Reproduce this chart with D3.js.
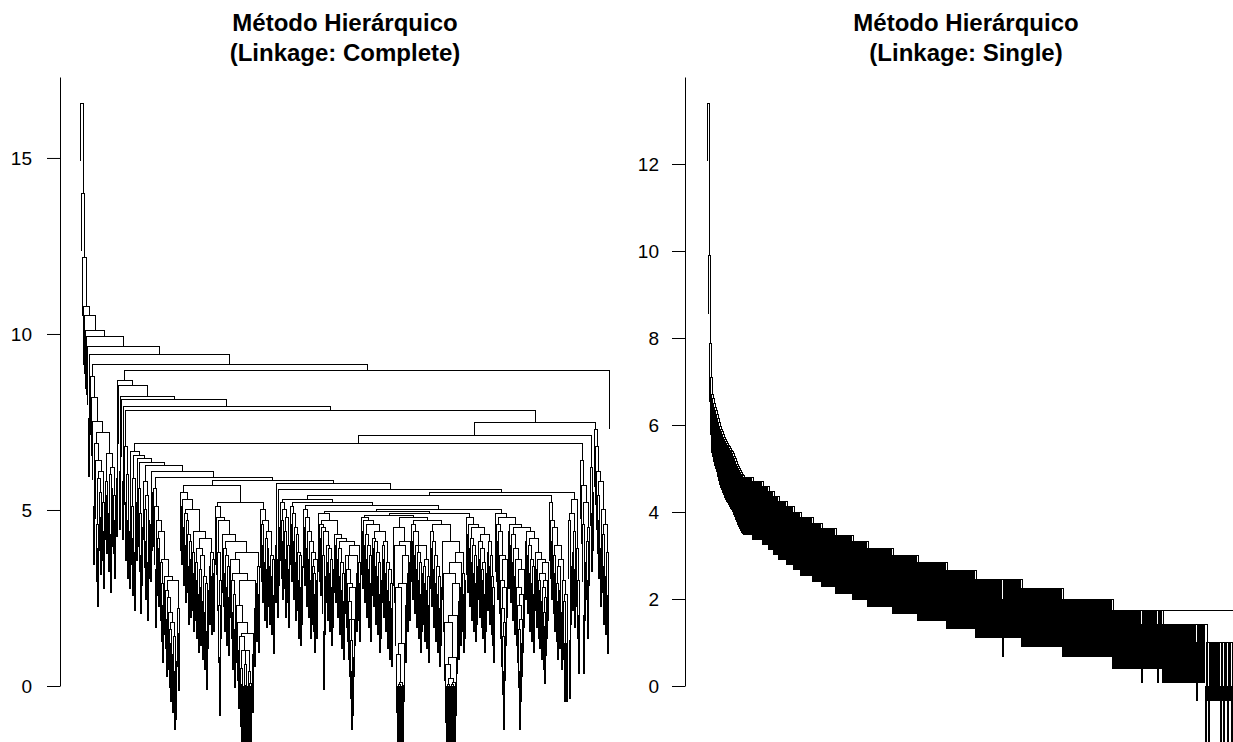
<!DOCTYPE html>
<html>
<head>
<meta charset="utf-8">
<script src="https://cdn.jsdelivr.net/npm/d3@7"></script>
<style>
  body { margin: 0; background: #fff; }
  svg { display: block; font-family: "Liberation Sans", Arial, Helvetica, sans-serif; }
  .link { fill: none; stroke: #000; stroke-width: 1; shape-rendering: crispEdges; }
</style>
</head>
<body>
<svg width="1233" height="742"></svg>
<script>
// Heights at which neighbouring leaves meet, read left to right.
// Complete linkage panel
const completeTop = [16.56, 14.0, 12.16, 10.77, 10.53, 10.1, 9.93, 9.64, 7.6, 9.42];
const completeLeftWedge = [8.8, 8.2, 7.5, 5.1, 6.9, 6.4, 4.6, 3.9, 5.9, 5.5, 4.8, 6.1, 5.2, 4.4, 7.2, 5.8, 5.4, 6.6, 4.9, 6.0, 4.3, 5.6, 6.2, 5.4, 4.7, 9.13];
const completeChainA = [5.9, 8.69, 8.53, 6.1, 8.23, 8.15, 5.8, 7.95, 6.8, 5.2, 6.0, 4.7, 7.82];
const completeChainB = [4.4, 6.65, 5.1, 4.2, 5.9, 3.8, 6.55, 5.2, 6.46, 5.6, 4.9, 3.7, 4.5, 6.36, 5.8, 5.0, 4.1, 5.4, 3.5, 4.7, 6.26, 4.6, 5.5, 6.09];
const completeDeepWedge = [5.6, 5.1, 3.3, 4.7, 4.2, 3.9, 4.4, 3.5, 2.9, 2.3, 3.6, 3.1, 2.7, 1.9, 2.5, 2.1, 1.6, 1.2, 1.8, 0.9, 1.4, 0.4, 0.7, 3.0, 2.2, 1.5, 5.93];
const completeMidA = [5.5, 5.1, 5.3, 4.5, 4.9, 4.0, 4.7, 4.3, 3.4, 4.1, 3.6, 5.0, 3.8, 3.2, 4.4, 3.5, 3.0, 3.9, 2.6, 3.3, 2.8, 3.7, 2.4, 3.1, 2.1, 2.9, 1.55, 2.7, 4.2, 3.4, 3.8, 3.1, 3.6, 3.2, 5.7];
const completeMidB = [5.1, 4.8, 3.8, 2.3, 0.8, 3.0, 4.7, 4.3, 3.9, 3.2, 3.7, 2.8, 3.4, 2.5, 4.1, 3.6, 3.0, 2.1, 2.6, 1.6, 3.2, 2.3, 1.8, 1.0, 1.4, 0.5, 0.05, 1.0, 0.0, 0.6, 0.02, 1.0, 0.0, 0.4, 0.06, 0.0, 1.5, 0.9, 3.0, 2.2, 3.8, 2.9, 3.4, 2.6, 5.2];
const completeMidC = [5.0, 4.6, 4.0, 4.7, 3.5, 4.2, 3.3, 3.9, 4.4, 3.4, 3.7, 3.1, 3.6, 2.56, 5.83, 4.0, 5.75, 3.6, 4.5, 5.58];
const completeCentreA = [5.2, 4.7, 4.1, 5.0, 4.4, 3.6, 4.8, 4.0, 3.3, 5.30,
  5.1, 4.6, 4.9, 4.1, 4.5, 3.5, 4.3, 3.8, 3.0, 3.7, 2.8, 3.4, 5.22,
  5.0, 4.5, 4.8, 3.9, 4.4, 3.6, 4.1, 3.0, 3.8, 3.4, 3.2, 2.6, 3.6, 3.0, 5.12];
const completeCentreB = [4.9, 4.6, 4.2, 4.5, 3.7, 1.55, 3.1, 4.4, 4.0, 3.5, 3.9, 3.2, 3.6, 2.8, 3.3, 4.7, 4.3, 4.0, 4.2, 3.6, 3.9, 3.1, 3.5, 2.7, 3.2, 2.4, 4.1, 3.7, 3.3, 2.9, 2.4, 1.9, 1.3, 0.4, 0.8, 1.9, 2.8, 3.7, 3.2, 4.0, 3.5, 2.9, 4.95];
const completeCentreC = [4.8, 4.4, 4.7, 4.0, 4.3, 3.6, 4.0, 3.3, 3.7, 2.9, 4.6, 4.2, 3.9, 4.1, 3.4, 3.8, 3.1, 3.5, 2.6, 3.0, 4.4, 4.0, 3.6, 4.1, 3.2, 3.5, 2.7, 3.3, 2.4, 2.9, 2.2, 4.85,
  4.5, 4.0, 2.8, 0.9, 0.0, 0.05, 0.0, 0.1, 0.0, 0.02, 1.2, 2.9, 2.3, 3.7, 3.2, 4.1, 3.5, 4.8];
const completeCentreD = [4.6, 4.1, 4.4, 3.7, 4.0, 3.3, 3.8, 3.0, 3.5, 2.6, 3.2, 4.0, 3.4, 2.9, 3.6, 2.7, 3.1, 2.3, 4.7,
  4.4, 3.9, 4.1, 3.3, 3.7, 2.9, 3.4, 2.6, 3.1, 2.2, 2.8, 4.6,
  4.1, 3.2, 1.8, 0.6, 0.0, 0.05, 0.0, 0.2, 0.0, 0.03, 0.0, 0.1, 0.0, 0.8, 2.0, 2.9, 2.4, 3.5, 2.8, 3.8, 3.2, 2.6, 3.0, 4.9];
const completeCentreE = [4.8, 4.3, 4.6, 3.9, 4.2, 3.5, 4.0, 3.2, 3.7, 2.9, 3.4, 4.5, 4.1, 3.6, 3.9, 3.3, 3.0, 3.5, 2.6, 3.2, 4.3, 3.8, 4.1, 3.4, 3.7, 3.1, 2.8, 2.3, 5.0];
const completeCentreF = [4.9, 4.6, 4.1, 4.4, 3.7, 3.0, 2.2, 1.4, 0.4, 1.8, 2.8, 3.6, 4.8, 4.4, 4.6, 4.0, 4.3, 3.5, 3.9, 3.1, 3.6, 2.8, 2.3, 1.6, 0.4, 1.2, 1.9, 2.6, 3.3, 4.5, 4.1, 4.4, 3.7, 4.0, 3.2, 3.6, 2.9, 3.4, 2.6, 4.2, 3.8, 3.3, 3.6, 3.0, 2.7, 3.2, 2.4, 2.8, 2.1, 1.7, 2.5, 3.0, 3.5, 5.40];
const completeRightA = [5.2, 4.7, 4.1, 4.5, 3.7, 3.2, 4.0, 2.9, 2.4, 3.4, 2.7, 3.6, 2.1, 3.0, 2.4, 1.2, 2.6, 1.2, 5.50,
  4.7, 1.3, 3.4, 4.9, 3.8, 4.4, 3.3, 5.3, 3.9, 3.0, 2.0, 6.9];
const completeRightB = [6.4, 5.7, 4.6, 2.0, 3.5, 5.2, 4.1, 3.0, 4.5, 7.13, 6.2, 4.9, 5.5, 7.48, 7.3, 6.8, 6.1, 5.4, 4.7, 5.8, 3.9, 5.0, 4.3, 3.4, 4.6, 3.1, 3.8, 2.56, 8.96];

// Single linkage panel: first leaves one by one, then plateaus (height, number of leaves)
const singleTopGaps = [13.4, 9.9, 7.88, 7.1, 6.7, 6.6, 6.5, 6.4, 6.34, 6.25, 6.15, 6.05, 5.96, 5.9, 5.84, 5.78, 5.72, 5.66, 5.62, 5.58, 5.54, 5.5, 5.46, 5.42, 5.38, 5.35, 5.28, 5.22, 5.16, 5.1, 5.05, 5.0, 4.95, 4.9, 4.86, 4.83];
const singleStepHeights = [4.80, 4.69, 4.58, 4.47, 4.36, 4.24, 4.12, 4.0, 3.87, 3.74, 3.61, 3.46, 3.32, 3.16, 3.0, 2.83, 2.65, 2.45, 2.0, 2.45, 2.24, 2.0, 1.73, 1.41, 1.73, 1.41, 1.73, 1.41, 1.0, 1.41, 0, 1.0, 0, 1.0, 0, 1.0, 0, 1.0, 0, 1.0, 0, 1.0, 1.73, 0];
const singleStepCounts = [9, 10, 6, 5, 5, 8, 7, 7, 12, 9, 14, 17, 15, 25, 25, 29, 29, 27, 1, 18, 41, 50, 29, 1, 15, 1, 4, 34, 1, 8, 1, 2, 1, 11, 1, 2, 1, 3, 1, 3, 1, 1, 1, 2];

const completeTicks = [0, 5, 10, 15];
const singleTicks = [0, 2, 4, 6, 8, 10, 12];
const mainTitle = "Método Hierárquico";

const completeGaps = [].concat(completeTop, completeLeftWedge, completeChainA, completeChainB, completeDeepWedge,
  completeMidA, completeMidB, completeMidC, completeCentreA, completeCentreB, completeCentreC,
  completeCentreD, completeCentreE, completeCentreF, completeRightA, completeRightB);

const singleGaps = singleTopGaps.slice();
singleStepHeights.forEach((h, i) => {
  for (let k = 0; k < singleStepCounts[i]; k++) singleGaps.push(h);
});

// rebuild the binary tree: split each range at its highest gap
function buildTree(gaps) {
  function build(lo, hi) {
    if (lo === hi) return { leaf: lo };
    let m = lo;
    for (let i = lo + 1; i < hi; i++) if (gaps[i] > gaps[m]) m = i;
    return { height: gaps[m], children: [build(lo, m), build(m + 1, hi)] };
  }
  return build(0, gaps.length);
}

const svg = d3.select("svg");

const panels = [
  { gaps: completeGaps, ticks: completeTicks, sub: "(Linkage: Complete)", axisX: 60, firstLeaf: 80.5, yTop: 17.3, pad: 15, titleX: 345 },
  { gaps: singleGaps, ticks: singleTicks, sub: "(Linkage: Single)", axisX: 685, firstLeaf: 707.5, yTop: 14.0, pad: 13, titleX: 966 }
];

panels.forEach(p => {
  const n = p.gaps.length + 1;
  const hang = 0.1 * d3.max(p.gaps);

  const x = d3.scaleLinear().domain([0, n - 1]).range([p.firstLeaf, p.firstLeaf + (n - 1)]);
  const y = d3.scaleLinear().domain([0, p.yTop]).range([686, 77]);

  const root = d3.hierarchy(buildTree(p.gaps));
  root.eachAfter(d => {
    d.pos = d.children ? (d.children[0].pos + d.children[1].pos) / 2 : d.data.leaf;
  });

  const top = (c, h) => c.children ? c.data.height : h - hang;

  svg.append("g")
    .selectAll("path")
    .data(root.descendants().filter(d => d.children))
    .join("path")
    .attr("class", "link")
    .attr("d", d => {
      const h = d.data.height;
      const [a, b] = d.children;
      const path = d3.path();
      path.moveTo(x(a.pos), y(top(a, h)));
      path.lineTo(x(a.pos), y(h));
      path.lineTo(x(b.pos), y(h));
      path.lineTo(x(b.pos), y(top(b, h)));
      return path.toString();
    });

  const axis = svg.append("g")
    .attr("transform", `translate(${p.axisX},0)`)
    .call(d3.axisLeft(y).tickValues(p.ticks).tickFormat(d3.format("d"))
      .tickSize(13).tickSizeOuter(0).tickPadding(p.pad));
  axis.attr("font-size", 19).attr("font-family", "'Liberation Sans', Arial, sans-serif");
  axis.selectAll("path, line").attr("stroke", "#000");
  axis.selectAll("text").attr("fill", "#000");

  const title = svg.append("g")
    .attr("font-weight", "bold")
    .attr("font-size", 24)
    .attr("text-anchor", "middle");
  title.append("text").attr("x", p.titleX).attr("y", 31).text(mainTitle);
  title.append("text").attr("x", p.titleX).attr("y", 61).text(p.sub);
});
</script>
</body>
</html>
